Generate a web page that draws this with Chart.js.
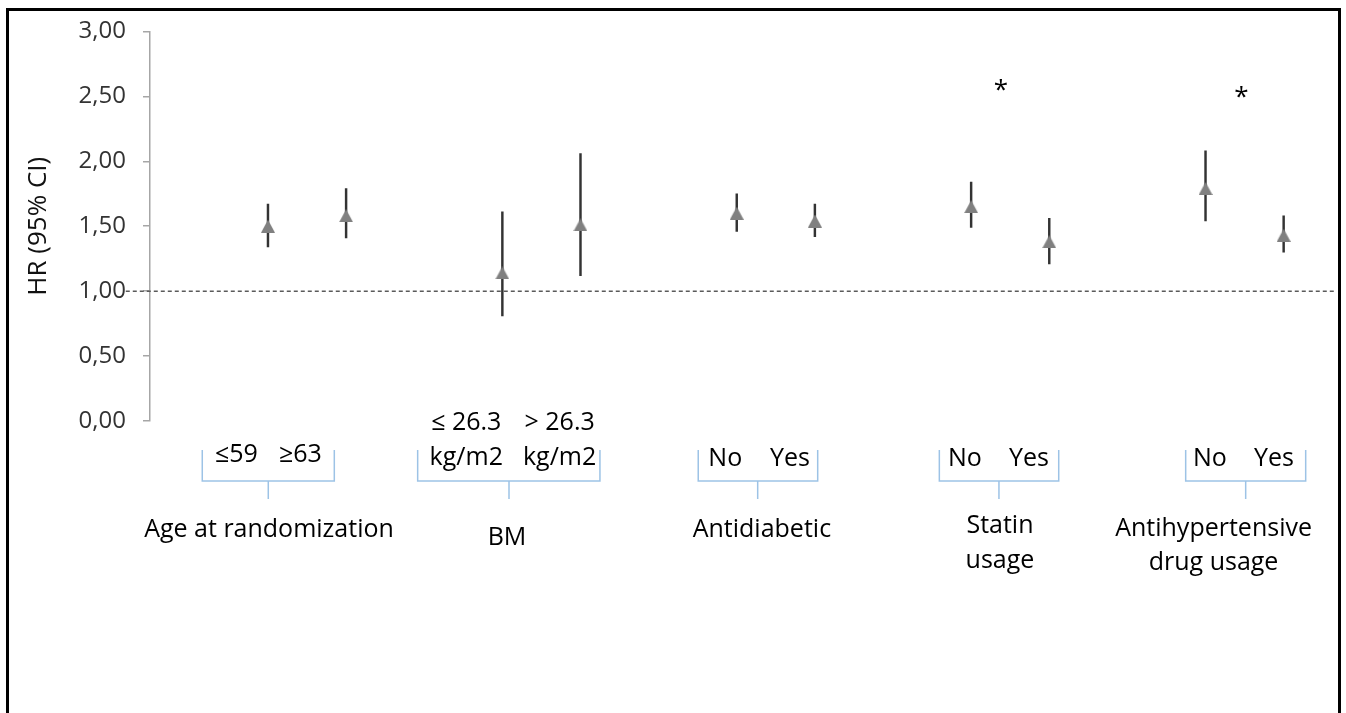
<!DOCTYPE html>
<html><head><meta charset="utf-8">
<script src="https://cdn.jsdelivr.net/npm/chart.js@4.4.1/dist/chart.umd.min.js"></script>
<style>
html,body{margin:0;padding:0;background:#fff;overflow:hidden;}
#wrap{position:relative;width:1346px;height:713px;}
#frame{position:absolute;left:6px;top:8px;width:1335px;height:800px;border:3px solid #000;box-sizing:border-box;pointer-events:none;}
canvas{position:absolute;left:0;top:0;}
</style></head><body>
<div id="wrap"><canvas id="c" width="1346" height="713"></canvas><div id="frame"></div></div>
<script>
// ---- data ----
const groupLabels = [['Age at randomization'], ['BM'], ['Antidiabetic'], ['Statin', 'usage'], ['Antihypertensive', 'drug usage']];
const subgroupLabels = [['≤59'], ['≥63'], ['≤ 26.3', 'kg/m2'], ['> 26.3', 'kg/m2'], ['No'], ['Yes'], ['No'], ['Yes'], ['No'], ['Yes']];
const xPositions = [1, 2, 4, 5, 7, 8, 10, 11, 13, 14];
const hazardRatio = [1.50, 1.58, 1.14, 1.51, 1.60, 1.54, 1.65, 1.38, 1.79, 1.43];
const ciLower = [1.34, 1.41, 0.81, 1.12, 1.46, 1.42, 1.49, 1.21, 1.54, 1.30];
const ciUpper = [1.67, 1.79, 1.61, 2.06, 1.75, 1.67, 1.84, 1.56, 2.08, 1.58];
const yTickValues = [0, 0.5, 1, 1.5, 2, 2.5, 3];
const referenceHR = 1;
const significanceX = [10.38, 13.46];
const significanceY = [2.584, 2.535];

// ---- layout (annotation geometry, x in scale units, y in px below axis base) ----
const X_MIN = -0.51, X_MAX = 14.67;
const bracketLayout = [
  {left: 0.159, stem: 1.004, right: 1.849, sub: [0.595, 1.416], subBase: 40.7, label: 1.013, labelBase: 116},
  {left: 2.916, stem: 4.085, right: 5.249, sub: [3.538, 4.733], subBase: 44, label: 4.059, labelBase: 124},
  {left: 6.507, stem: 7.268, right: 8.036, sub: [6.853, 7.680], subBase: 45, label: 7.322, labelBase: 116.3},
  {left: 9.593, stem: 10.356, right: 11.121, sub: [9.921, 10.740], subBase: 45, label: 10.369, labelBase: 112.3},
  {left: 12.746, stem: 13.514, right: 14.282, sub: [13.057, 13.876], subBase: 45, label: 13.103, labelBase: 114.7}
];
const FONT = "'Open Sans', 'Noto Sans', sans-serif";

// triangle marker
const tri = document.createElement('canvas');
tri.width = 14; tri.height = 13;
(function(){const t = tri.getContext('2d'); t.fillStyle = '#808080'; t.beginPath(); t.moveTo(7, 0); t.lineTo(14, 13); t.lineTo(0, 13); t.closePath(); t.fill();})();

const annotPlugin = {
  id: 'annot',
  afterDatasetsDraw(chart) {
    const ctx = chart.ctx, xs = chart.scales.x, ys = chart.scales.y;
    const base = ys.getPixelForValue(0);
    ctx.save();
    // brackets
    ctx.strokeStyle = '#9dc3e6';
    ctx.lineWidth = 1.5;
    bracketLayout.forEach(b => {
      const L = xs.getPixelForValue(b.left), R = xs.getPixelForValue(b.right), S = xs.getPixelForValue(b.stem);
      const top = base + 29, mid = base + 60, bot = base + 78;
      ctx.beginPath();
      ctx.moveTo(L, top); ctx.lineTo(L, mid); ctx.lineTo(R, mid); ctx.lineTo(R, top);
      ctx.moveTo(S, mid); ctx.lineTo(S, bot);
      ctx.stroke();
    });
    // subgroup labels
    ctx.fillStyle = '#000';
    ctx.font = '500 25px ' + FONT;
    ctx.textAlign = 'center';
    ctx.textBaseline = 'alphabetic';
    bracketLayout.forEach((b, gi) => {
      [0, 1].forEach(k => {
        const lines = subgroupLabels[gi * 2 + k];
        const x = xs.getPixelForValue(b.sub[k]);
        lines.forEach((ln, li) => {
          const y = base + b.subBase - (lines.length - 1 - li) * 35.5;
          ctx.fillText(ln, x, y);
        });
      });
      const gl = groupLabels[gi];
      const gx = xs.getPixelForValue(b.label);
      gl.forEach((ln, li) => ctx.fillText(ln, gx, base + b.labelBase + li * 34.5));
    });
    // significance markers
    ctx.font = '500 26px ' + FONT;
    significanceX.forEach((sx, i) => {
      const m = ctx.measureText('*');
      const cx = xs.getPixelForValue(sx), cy = ys.getPixelForValue(significanceY[i]);
      ctx.fillText('*', cx, cy + (m.actualBoundingBoxAscent - m.actualBoundingBoxDescent) / 2);
    });
    ctx.restore();
  }
};

new Chart(document.getElementById('c'), {
  type: 'scatter',
  data: {
    datasets: [
      {
        type: 'scatter',
        data: xPositions.map((x, i) => ({x, y: hazardRatio[i]})),
        pointStyle: tri, pointRadius: 8, order: 0
      },
      {
        type: 'bar',
        data: xPositions.map((x, i) => ({x, y: [ciLower[i], ciUpper[i]]})),
        backgroundColor: '#333333', borderWidth: 0, barThickness: 1.8, order: 1
      },
      {
        type: 'line',
        data: [{x: X_MIN - 0.31, y: referenceHR}, {x: X_MAX, y: referenceHR}],
        borderColor: '#5a5a5a', borderWidth: 1.5, borderDash: [4, 3],
        pointRadius: 0, clip: false, order: 2, fill: false
      }
    ]
  },
  options: {
    responsive: false,
    animation: false,
    devicePixelRatio: 1,
    layout: {padding: {left: 0, top: 29, right: 10, bottom: 292}},
    plugins: {legend: {display: false}, tooltip: {enabled: false}},
    scales: {
      x: {type: 'linear', min: X_MIN, max: X_MAX, display: false, offset: false},
      y: {
        type: 'linear', min: 0, max: 3,
        afterFit(s) { s.width = 150; },
        afterBuildTicks(s) { s.ticks = yTickValues.map(v => ({value: v})); },
        grid: {drawOnChartArea: false, drawTicks: true, tickLength: 7, color: '#a6a6a6', lineWidth: 1.5},
        border: {display: true, color: '#a6a6a6', width: 1.5},
        ticks: {
          padding: 17, color: '#333333',
          font: {family: FONT, size: 24, weight: '500'},
          callback: v => v.toFixed(2).replace('.', ',')
        },
        title: {
          display: true, text: 'HR (95% CI)', color: '#111',
          font: {family: FONT, size: 26, weight: '500'}, padding: {top: 23, bottom: 0}
        }
      }
    }
  },
  plugins: [annotPlugin]
});
</script>
</body></html>
